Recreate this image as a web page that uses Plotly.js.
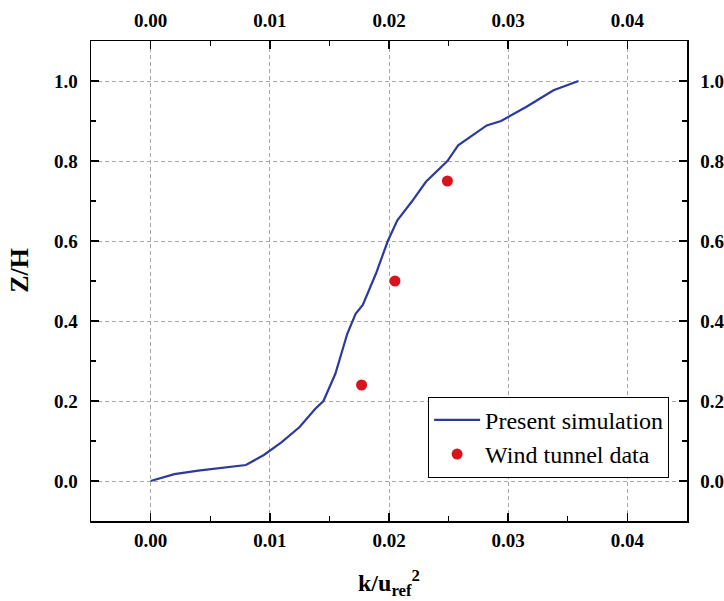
<!DOCTYPE html>
<html>
<head>
<meta charset="utf-8">
<script src="https://cdn.plot.ly/plotly-3.0.1.min.js"></script>
<style>html,body{margin:0;padding:0;background:#fff;}#chart{width:724px;height:601px;}</style>
</head>
<body>
<div id="chart"></div>
<script>
// Present simulation (k/uref^2 vs Z/H)
const simX = [0, 0.002, 0.004, 0.006, 0.008, 0.0095, 0.011, 0.0125, 0.0138, 0.0145, 0.0155, 0.0165, 0.0172, 0.0178, 0.0189, 0.0199, 0.0207, 0.0219, 0.0231, 0.0249, 0.0258, 0.0282, 0.0294, 0.0315, 0.0338, 0.0359];
const simY = [0, 0.017, 0.026, 0.033, 0.040, 0.065, 0.097, 0.135, 0.180, 0.200, 0.268, 0.368, 0.418, 0.440, 0.518, 0.600, 0.652, 0.698, 0.748, 0.800, 0.839, 0.889, 0.900, 0.935, 0.977, 1.0];
// Wind tunnel data
const windX = [0.0177, 0.0205, 0.0249];
const windY = [0.24, 0.50, 0.75];
const xTicks = [0, 0.01, 0.02, 0.03, 0.04];
const xTickText = ['0.00', '0.01', '0.02', '0.03', '0.04'];
const yTicks = [0, 0.2, 0.4, 0.6, 0.8, 1.0];
const yTickText = ['0.0', '0.2', '0.4', '0.6', '0.8', '1.0'];

const serif = 'Liberation Serif, Times New Roman, serif';
const tickFont = {family: serif, size: 19, color: '#000', weight: 'bold'};

const traces = [
  {x: simX, y: simY, mode: 'lines', name: 'Present simulation',
   line: {color: '#2b3a9c', width: 2.2}},
  {x: windX, y: windY, mode: 'markers', name: 'Wind tunnel data',
   marker: {color: '#d7141c', size: 11}},
  {x: [0.02], y: [0.5], xaxis: 'x2', yaxis: 'y2', mode: 'markers',
   marker: {opacity: 0}, showlegend: false, hoverinfo: 'skip'}
];

const baseX = {
  range: [-0.005, 0.045], tickvals: xTicks, ticktext: xTickText,
  ticks: 'inside', ticklen: 8, tickwidth: 1.5, tickcolor: '#000',
  minor: {dtick: 0.005, tick0: 0, ticks: 'inside', ticklen: 5, tickwidth: 1.3, tickcolor: '#000', showgrid: false},
  showline: true, linecolor: '#000', linewidth: 1.5,
  tickfont: tickFont, zeroline: false
};
const baseY = {
  range: [-0.1, 1.1], tickvals: yTicks, ticktext: yTickText,
  ticks: 'inside', ticklen: 8, tickwidth: 1.5, tickcolor: '#000',
  minor: {dtick: 0.1, tick0: 0, ticks: 'inside', ticklen: 5, tickwidth: 1.3, tickcolor: '#000', showgrid: false},
  showline: true, linecolor: '#000', linewidth: 1.5,
  tickfont: tickFont, zeroline: false, ticklabelstandoff: 8
};

const layout = {
  width: 724, height: 601,
  margin: {l: 91, r: 37, t: 41, b: 80},
  paper_bgcolor: '#fff', plot_bgcolor: '#fff',
  font: {family: serif, color: '#000'},
  xaxis: Object.assign({}, baseX, {
    ticklabelstandoff: 2,
    showgrid: true, gridcolor: '#a8a8a8', griddash: '4px,3px', gridwidth: 1,
    title: {text: 'k/u<sub>ref</sub><sup>2</sup>', font: {family: serif, size: 24, color: '#000', weight: 'bold'}, standoff: 24}
  }),
  yaxis: Object.assign({}, baseY, {
    showgrid: true, gridcolor: '#a8a8a8', griddash: '4px,3px', gridwidth: 1
  }),
  xaxis2: Object.assign({}, baseX, {overlaying: 'x', side: 'top', anchor: 'y', showgrid: false, ticklabelstandoff: 5}),
  yaxis2: Object.assign({}, baseY, {overlaying: 'y', side: 'right', anchor: 'x', showgrid: false}),
  annotations: [{
    text: 'Z/H', xref: 'paper', yref: 'paper', x: -0.1203, y: 0.522,
    xanchor: 'center', yanchor: 'middle', textangle: -90, showarrow: false,
    font: {family: serif, size: 26, color: '#000', weight: 'bold'}
  }],
  showlegend: true,
  legend: {
    x: 0.970, y: 0.09, xanchor: 'right', yanchor: 'bottom',
    bgcolor: '#fff', bordercolor: '#000', borderwidth: 1,
    font: {family: serif, size: 24, color: '#000'},
    tracegroupgap: 0, itemwidth: 46
  }
};

Plotly.newPlot('chart', traces, layout, {displayModeBar: false, staticPlot: true});
</script>
</body>
</html>
